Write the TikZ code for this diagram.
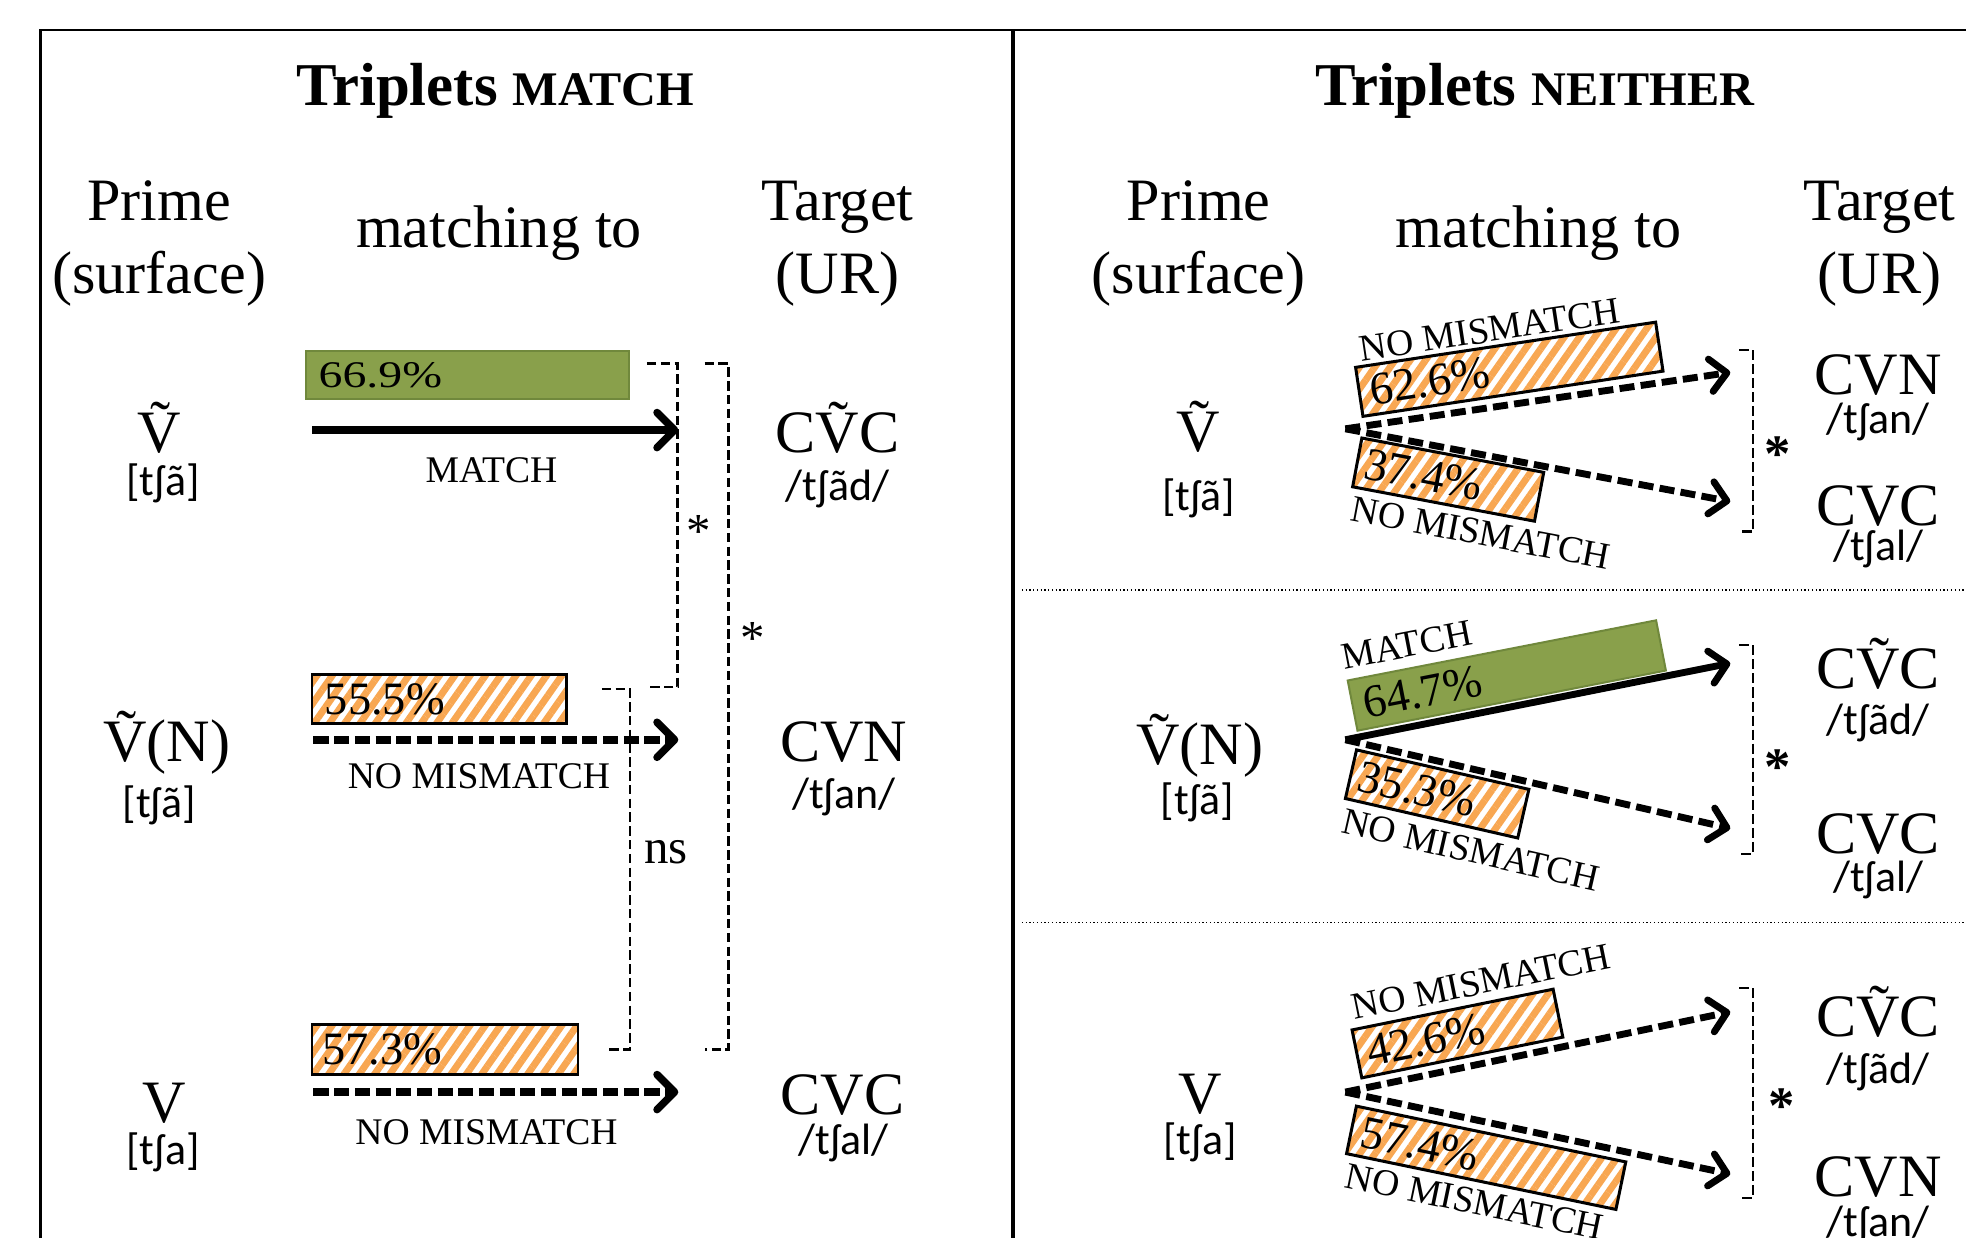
\documentclass[tikz,border=0pt]{standalone}
\usepackage{fontspec}
\setmainfont{Liberation Serif}
\newfontfamily\ipafont{Carlito}
\newfontfamily\widefont[FakeStretch=1.27]{Liberation Serif}
\usetikzlibrary{arrows.meta,patterns.meta}
\definecolor{gfill}{RGB}{137,160,75}
\definecolor{gdraw}{RGB}{112,136,60}
\definecolor{orangeH}{RGB}{248,167,82}
\newcommand{\fsz}[2]{\fontsize{#1}{#2}\selectfont}
\tikzset{
  ttl/.style={font=\bfseries\fsz{48.5}{58}, anchor=base, inner sep=0pt},
  hd/.style={font=\fsz{48}{58}, align=center, anchor=base, inner sep=0pt},
  big/.style={font=\fsz{48}{58}, anchor=base, inner sep=0pt},
  ipa/.style={font=\ipafont\fsz{35}{40}, anchor=base, inner sep=0pt},
  lab/.style={font=\fsz{30}{36}, inner sep=0pt},
  pct/.style={font=\fsz{37}{44}, inner sep=0pt, anchor=west},
  pctw/.style={font=\widefont\fsz{30}{35}, inner sep=0pt, anchor=west},
  gbar/.style={draw=gdraw, fill=gfill, line width=1.6pt, inner sep=0pt, outer sep=0pt},
  hbar/.style={draw=black, line width=2pt, inner sep=0pt, outer sep=0pt,
    preaction={fill=white},
    pattern={Lines[angle=55,distance=10pt,line width=5.5pt]}, pattern color=orangeH},
  arr/.style={line width=6pt, -{Straight Barb[length=14pt,width=28pt,round]}},
  dsh/.style={arr, dash pattern=on 12pt off 4.5pt},
  rarr/.style={line width=5.5pt, -{Straight Barb[length=13pt,width=26pt,round]}},
  rdsh/.style={rarr, dash pattern=on 12pt off 5pt},
  brk/.style={line width=2pt, dash pattern=on 7.5pt off 3.5pt},
  rbrk/.style={line width=1.8pt, dash pattern=on 8pt off 3.2pt},
  lstar/.style={font=\fsz{39}{46}, anchor=base, inner sep=0pt},
  rstar/.style={font=\bfseries\fsz{42}{46}, anchor=base, inner sep=0pt},
  sepline/.style={line width=1pt, dash pattern=on 1pt off 2pt}
}
\begin{document}
\begin{tikzpicture}[x=1pt,y=-1pt]
\fill[white] (0,0) rectangle (1568,987);
\useasboundingbox (0,0) rectangle (1568,987);
% frame
\draw[line width=2.2pt] (32,1000) -- (32,24) -- (1600,24);
\draw[line width=3.5pt] (808,24) -- (808,1000);
\draw[sepline] (815,470.5) -- (1600,470.5);
\draw[sepline] (815,736) -- (1600,736);
% ===== left panel =====
\node[ttl] (t1) at (395,84) {Triplets {\fsz{38.5}{46}MATCH}};
\node[hd] (p1) at (127,234) {Prime\\(surface)};
\node[hd] (m1) at (398,197) {matching to};
\node[hd] (g1) at (668,234) {Target\\(UR)};
% row 1
\node[big] (v1) at (127,361) {Ṽ};
\node[ipa] (v1i) at (130,395) {[tʃã]};
\node[big] (c1) at (668,361) {CṼC};
\node[ipa] (c1i) at (668,399) {/tʃãd/};
\node[gbar, minimum width=258pt, minimum height=38pt, anchor=north west] (barA) at (244,280) {};
\node[pctw] (pA) at ([xshift=10pt]barA.west) {66.9\%};
\coordinate (sA) at (249,343);
\coordinate (eA) at (541,343);
\draw[arr] (sA) -- (eA);
\node[lab, anchor=base] (lA) at (392,385) {MATCH};
% row 2
\node[big] (v2) at (133,607.5) {Ṽ(N)};
\node[ipa] (v2i) at (127,652) {[tʃã]};
\node[big] (c2) at (673,607.5) {CVN};
\node[ipa] (c2i) at (673,645) {/tʃan/};
\node[hbar, minimum width=203pt, minimum height=39pt, anchor=north west] (barB) at (249,538) {};
\node[pct] (pB) at ([xshift=10pt]barB.west) {55.5\%};
\coordinate (sB) at (250,590);
\coordinate (eB) at (541,590);
\draw[dsh] (sB) -- (eB);
\node[lab, anchor=base] (lB) at (382,629) {NO MISMATCH};
% row 3
\node[big] (v3) at (131,895) {V};
\node[ipa] (v3i) at (130,929) {[tʃa]};
\node[big] (c3) at (672,889) {CVC};
\node[ipa] (c3i) at (673,921) {/tʃal/};
\node[hbar, minimum width=212pt, minimum height=40pt, anchor=north west] (barC) at (249,817) {};
\node[pct] (pC) at ([xshift=8pt]barC.west) {57.3\%};
\coordinate (sC) at (250,871);
\coordinate (eC) at (541,871);
\draw[dsh] (sC) -- (eC);
\node[lab, anchor=base] (lC) at (388,913) {NO MISMATCH};
% brackets
\draw[brk] (516,290) -- (540.5,290) -- (540.5,548) -- (516,548);
\node[lstar] (s1l) at (557,437) {*};
\draw[brk] (562,290) -- (581,290) -- (581,837) -- (562,837);
\node[lstar] (s2l) at (600,522) {*};
\draw[brk] (480,549.5) -- (502.5,549.5) -- (502.5,837) -- (485,837);
\node[lstar] (nsl) at (531,688.6) {ns};
% ===== right panel =====
\node[ttl] (t2) at (1224,84) {Triplets {\fsz{38.5}{46}NEITHER}};
\node[hd] (p2) at (956,234) {Prime\\(surface)};
\node[hd] (m2) at (1227,197) {matching to};
\node[hd] (g2) at (1499,234) {Target\\(UR)};
% row 1
\node[big] (rv1) at (956,360) {Ṽ};
\node[ipa] (rv1i) at (956,407) {[tʃã]};
\node[big] (rc1a) at (1498,315) {CVN};
\node[ipa] (rc1ai) at (1498,346) {/tʃan/};
\node[big] (rc1b) at (1498,419) {CVC};
\node[ipa] (rc1bi) at (1498,447) {/tʃal/};
\node[hbar, line width=2.4pt, rotate=8.57, minimum width=242pt, minimum height=39.5pt] (r1a) at (1203.75,294.5) {};
\node[pct, rotate=8.57, inner xsep=9pt] (q1a) at (r1a.west) {62.6\%};
\node[hbar, line width=2.4pt, rotate=-10.7, minimum width=147.6pt, minimum height=39.6pt] (r1b) at (1155,382.5) {};
\node[pct, rotate=-10.7, inner xsep=6pt] (q1b) at (r1b.west) {37.4\%};
\node[lab, rotate=8.6] (l1a) at (1188,263) {NO MISMATCH};
\node[lab, rotate=-10.7] (l1b) at (1181,425) {NO MISMATCH};
\coordinate (rs1) at (1073,342);
\coordinate (re1a) at (1380,297);
\coordinate (re1b) at (1380,400);
\draw[rdsh] (rs1) -- (re1a);
\draw[rdsh] (rs1) -- (re1b);
\draw[rbrk] (1387,279) -- (1398,279) -- (1398,424) -- (1387,424);
\node[rstar] (rst1) at (1418,376) {*};
% row 2
\node[big] (rv2) at (957,610) {Ṽ(N)};
\node[ipa] (rv2i) at (955,650) {[tʃã]};
\node[big] (rc2a) at (1498,549) {CṼC};
\node[ipa] (rc2ai) at (1498,586) {/tʃãd/};
\node[big] (rc2b) at (1498,680.6) {CVC};
\node[ipa] (rc2bi) at (1498,711) {/tʃal/};
\node[gbar, rotate=11.04, minimum width=250.6pt, minimum height=40.8pt] (r2a) at (1201.75,538.75) {};
\node[pct, rotate=11.04, inner xsep=9pt] (q2a) at (r2a.west) {64.7\%};
\node[hbar, line width=2.4pt, rotate=-12.9, minimum width=141pt, minimum height=39.8pt] (r2b) at (1146.2,633.2) {};
\node[pct, rotate=-12.9, inner xsep=6pt] (q2b) at (r2b.west) {35.3\%};
\node[lab, rotate=11] (l2a) at (1122,514.5) {MATCH};
\node[lab, rotate=-12.9] (l2b) at (1173,678) {NO MISMATCH};
\coordinate (rs2) at (1073,590);
\coordinate (re2a) at (1380,529);
\coordinate (re2b) at (1380,660.7);
\draw[rarr] (rs2) -- (re2a);
\draw[rdsh] (rs2) -- (re2b);
\draw[rbrk] (1387,514.5) -- (1398,514.5) -- (1398,681) -- (1387,681);
\node[rstar] (rst2) at (1418,626) {*};
% row 3
\node[big] (rv3) at (957,888) {V};
\node[ipa] (rv3i) at (957,921) {[tʃa]};
\node[big] (rc3a) at (1498,826.8) {CṼC};
\node[ipa] (rc3ai) at (1498,864) {/tʃãd/};
\node[big] (rc3b) at (1498,954.5) {CVN};
\node[ipa] (rc3bi) at (1498,986) {/tʃan/};
\node[hbar, line width=2.4pt, rotate=11.46, minimum width=163.6pt, minimum height=39pt] (r3a) at (1162.4,824.3) {};
\node[pct, rotate=11.46, inner xsep=8pt] (q3a) at (r3a.west) {42.6\%};
\node[hbar, line width=2.4pt, rotate=-11.7, minimum width=219.4pt, minimum height=38.7pt] (r3b) at (1185.3,923.4) {};
\node[pct, rotate=-11.7, inner xsep=8pt] (q3b) at (r3b.west) {57.4\%};
\node[lab, rotate=11.5] (l3a) at (1181,783) {NO MISMATCH};
\node[lab, rotate=-11.7] (l3b) at (1176,958.4) {NO MISMATCH};
\coordinate (rs3) at (1073,871);
\coordinate (re3a) at (1380,807);
\coordinate (re3b) at (1380,936.4);
\draw[rdsh] (rs3) -- (re3a);
\draw[rdsh] (rs3) -- (re3b);
\draw[rbrk] (1387,788) -- (1398,788) -- (1398,955.5) -- (1387,955.5);
\node[rstar] (rst3) at (1421,896) {*};
\end{tikzpicture}
\end{document}
